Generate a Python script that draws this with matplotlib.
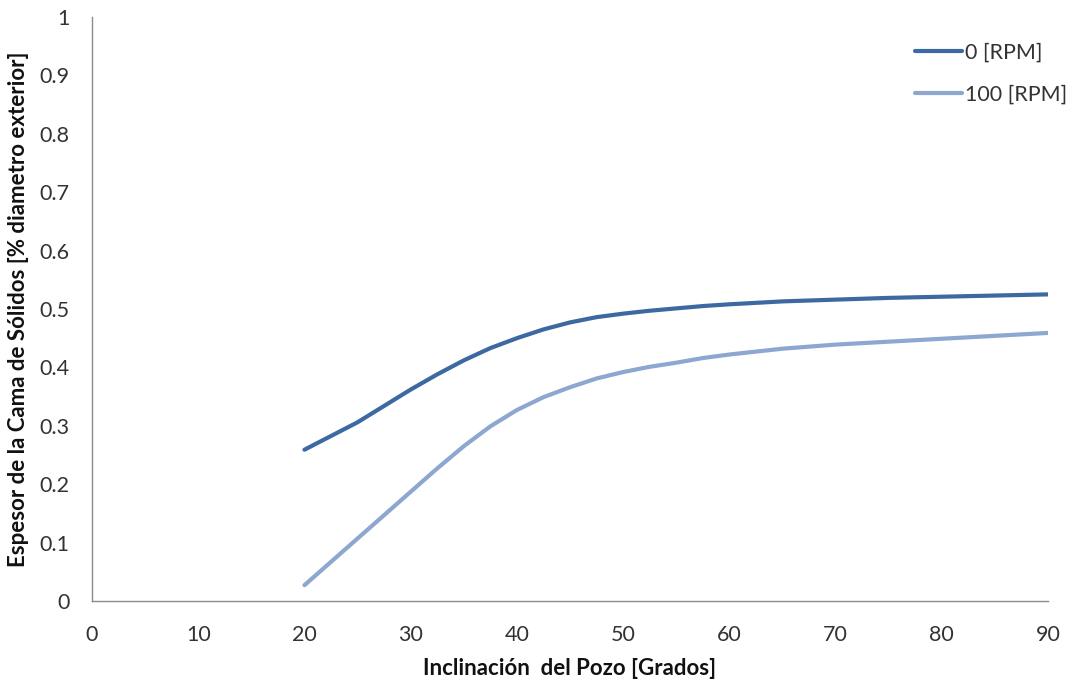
import matplotlib
matplotlib.use("Agg")
import matplotlib.pyplot as plt

angles = [20, 25, 30, 32.5, 35, 37.5, 40, 42.5, 45, 47.5, 50, 52.5, 55, 57.5, 60, 65, 70, 75, 80, 85, 90]
rpm0 = [0.259, 0.306, 0.362, 0.388, 0.412, 0.433, 0.450, 0.465, 0.477, 0.486, 0.492, 0.497, 0.501, 0.505, 0.508, 0.513, 0.516, 0.519, 0.521, 0.523, 0.525]
rpm100 = [0.027, 0.107, 0.187, 0.227, 0.265, 0.299, 0.327, 0.349, 0.366, 0.381, 0.392, 0.401, 0.408, 0.416, 0.422, 0.432, 0.439, 0.444, 0.449, 0.454, 0.459]
series_labels = ["0 [RPM]", "100 [RPM]"]
x_ticks = [0, 10, 20, 30, 40, 50, 60, 70, 80, 90]
y_ticks = [0, 0.1, 0.2, 0.3, 0.4, 0.5, 0.6, 0.7, 0.8, 0.9, 1]
y_tick_labels = ["0", "0.1", "0.2", "0.3", "0.4", "0.5", "0.6", "0.7", "0.8", "0.9", "1"]
x_label = "Inclinación  del Pozo [Grados]"
y_label = "Espesor de la Cama de Sólidos [% diametro exterior]"

plt.rcParams['font.family'] = ['Lato', 'DejaVu Sans']

fig = plt.figure(figsize=(10.76, 6.88), dpi=100)
ax = fig.add_axes([0.0855, 0.1265, 0.8885, 0.8488])

ax.plot(angles, rpm0, color="#3D69A3", lw=3.0, solid_capstyle="round",
        solid_joinstyle="round", label=series_labels[0])
ax.plot(angles, rpm100, color="#8DA7D0", lw=3.0, solid_capstyle="round",
        solid_joinstyle="round", label=series_labels[1])

ax.set_xlim(0, 90)
ax.set_ylim(0, 1)
ax.set_xticks(x_ticks)
ax.set_yticks(y_ticks)
ax.set_yticklabels(y_tick_labels)
ax.tick_params(length=0, labelsize=15.5, colors="#333333")
ax.tick_params(axis="x", pad=17)
ax.tick_params(axis="y", pad=16)
for s in ["top", "right"]:
    ax.spines[s].set_visible(False)
for s in ["left", "bottom"]:
    ax.spines[s].set_color("#8c8c8c")
    ax.spines[s].set_linewidth(1.0)

ax.set_xlabel(x_label, fontsize=16, fontweight="bold", color="#111111")
ax.set_ylabel(y_label, fontsize=16, fontweight="bold", color="#111111")
ax.xaxis.set_label_coords(0.5, -0.097)
ax.yaxis.set_label_coords(-0.066, 0.5)

leg = ax.legend(loc="upper right", frameon=False, fontsize=15.5, handlelength=2.2,
                handletextpad=0.1, labelspacing=1.05, bbox_to_anchor=(1.04, 0.99))
for t in leg.get_texts():
    t.set_color("#333333")

fig.savefig("out.png", dpi=100)
